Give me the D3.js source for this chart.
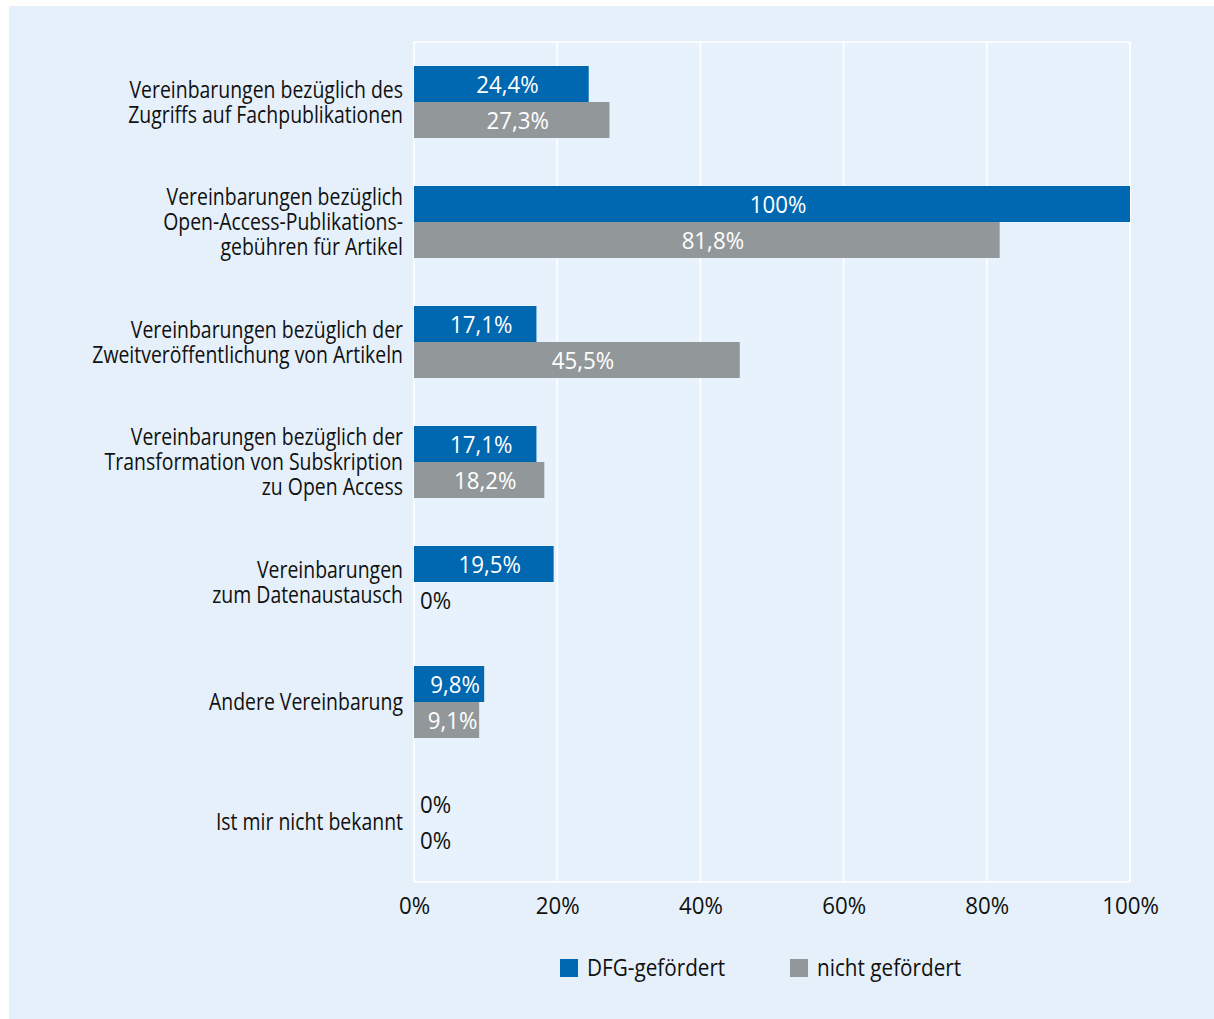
<!DOCTYPE html>
<html>
<head>
<meta charset="utf-8">
<script src="https://cdn.jsdelivr.net/npm/d3@7"></script>
<style>
  html, body { margin: 0; padding: 0; background: #ffffff; }
  svg { display: block; }
  text { font-family: "Open Sans", sans-serif; }
</style>
</head>
<body>
<svg id="chart" width="1214" height="1019"></svg>
<script>
// Category labels (line breaks as printed)
const categories = [
  ["Vereinbarungen bezüglich des", "Zugriffs auf Fachpublikationen"],
  ["Vereinbarungen bezüglich", "Open-Access-Publikations-", "gebühren für Artikel"],
  ["Vereinbarungen bezüglich der", "Zweitveröffentlichung von Artikeln"],
  ["Vereinbarungen bezüglich der", "Transformation von Subskription", "zu Open Access"],
  ["Vereinbarungen", "zum Datenaustausch"],
  ["Andere Vereinbarung"],
  ["Ist mir nicht bekannt"]
];
const seriesNames = ["DFG-gefördert", "nicht gefördert"];
const dfgValues = [24.4, 100, 17.1, 17.1, 19.5, 9.8, 0];
const nichtValues = [27.3, 81.8, 45.5, 18.2, 0, 9.1, 0];
const xTicks = [0, 20, 40, 60, 80, 100];
const colors = ["#0067b1", "#92989a"];

// condensed lettering: text is narrowed horizontally around its anchor
const SX_LABEL = 0.845;   // category labels
const SX_NUM = 0.97;      // numbers (values, ticks)
const SX_LEG = 0.9;       // legend entries
const FS = 23;

const svg = d3.select("#chart");

// panel background
svg.append("rect")
  .attr("x", 9).attr("y", 6).attr("width", 1205).attr("height", 1013)
  .attr("fill", "#e5f0fa");

const margin = { left: 414, right: 1130, top: 42, bottom: 882 };

const x = d3.scaleLinear().domain([0, 100]).range([margin.left, margin.right]);
const y = d3.scaleBand()
  .domain(d3.range(categories.length))
  .range([margin.top, margin.bottom])
  .paddingInner(0.4).paddingOuter(0.2);
const ySub = d3.scaleBand().domain([0, 1]).range([0, y.bandwidth()]);

// plot area
svg.append("rect")
  .attr("x", margin.left).attr("y", margin.top)
  .attr("width", margin.right - margin.left).attr("height", margin.bottom - margin.top)
  .attr("fill", "#e8f2fc").attr("stroke", "#ffffff").attr("stroke-width", 1.5);

// vertical gridlines
svg.append("g").selectAll("line")
  .data(xTicks.slice(1))
  .join("line")
  .attr("x1", d => x(d)).attr("x2", d => x(d))
  .attr("y1", margin.top).attr("y2", margin.bottom)
  .attr("stroke", "#ffffff").attr("stroke-width", 1.5);

// x axis labels
const xAxis = d3.axisBottom(x).tickValues(xTicks).tickFormat(d => d + "%").tickSize(0).tickPadding(16);
const gx = svg.append("g").attr("transform", `translate(0,${margin.bottom})`).call(xAxis);
gx.select(".domain").remove();
gx.selectAll("text")
  .attr("font-size", FS).attr("fill", "#111111")
  .attr("transform", `scale(${SX_NUM},1)`)
  .style("font-family", "'Open Sans', sans-serif");

// bars
const rows = categories.map((c, i) => ({ i, values: [dfgValues[i], nichtValues[i]] }));
const groups = svg.append("g").selectAll("g")
  .data(rows).join("g")
  .attr("transform", d => `translate(0,${y(d.i)})`);

groups.selectAll("rect")
  .data(d => d.values.map((v, s) => ({ v, s })))
  .join("rect")
  .attr("x", x(0))
  .attr("y", d => ySub(d.s))
  .attr("width", d => x(d.v) - x(0))
  .attr("height", ySub.bandwidth())
  .attr("fill", d => colors[d.s]);

const fmt = v => String(v).replace(".", ",") + "%";
groups.selectAll("g.val")
  .data(d => d.values.map((v, s) => ({ v, s })))
  .join("g")
  .attr("class", "val")
  .attr("transform", d => {
    const tx = d.v > 0 ? (x(0) + x(d.v)) / 2 + 6 : x(0) + 6;
    const ty = ySub(d.s) + ySub.bandwidth() / 2 + 1;
    return `translate(${tx},${ty}) scale(${SX_NUM},1)`;
  })
  .append("text")
  .attr("dy", "0.36em")
  .attr("text-anchor", d => d.v > 0 ? "middle" : "start")
  .attr("font-size", FS)
  .attr("fill", d => d.v > 0 ? "#ffffff" : "#111111")
  .text(d => fmt(d.v));

// category labels
const lineH = 25;
svg.append("g").selectAll("g")
  .data(categories)
  .join("g")
  .attr("transform", (d, i) => `translate(403,${y(i) + y.bandwidth() / 2}) scale(${SX_LABEL},1)`)
  .selectAll("text")
  .data(lines => lines.map((ln, k) => ({ ln, off: (k - (lines.length - 1) / 2) * lineH })))
  .join("text")
  .attr("text-anchor", "end")
  .attr("font-size", FS)
  .attr("fill", "#111111")
  .attr("y", d => d.off)
  .attr("dy", "0.36em")
  .text(d => d.ln);

// legend
const legendX = [560, 790];
const lg = svg.append("g").selectAll("g")
  .data(seriesNames).join("g")
  .attr("transform", (d, i) => `translate(${legendX[i]},959)`);
lg.append("rect").attr("width", 18).attr("height", 18).attr("fill", (d, i) => colors[i]);
lg.append("text")
  .attr("transform", `translate(27,9) scale(${SX_LEG},1)`)
  .attr("dy", "0.36em")
  .attr("font-size", FS).attr("fill", "#111111").text(d => d);
</script>
</body>
</html>
